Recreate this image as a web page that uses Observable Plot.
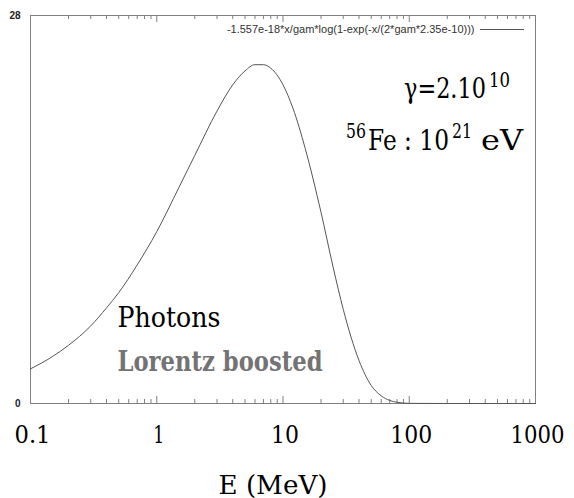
<!DOCTYPE html>
<html><head><meta charset="utf-8">
<script src="https://cdn.jsdelivr.net/npm/d3@7"></script>
<script src="https://cdn.jsdelivr.net/npm/@observablehq/plot@0.6"></script>
<style>
body{margin:0;background:#fff} svg{display:block}
</style>
</head><body><div id="chart"></div>
<script>
// Photon energy (MeV) and spectrum values
const energy = [0.1, 0.15, 0.2, 0.3, 0.4, 0.5, 0.7, 1, 1.5, 2, 3, 4, 5, 6, 7, 8, 10, 12, 15, 20, 25, 30, 40, 50, 60, 70, 80, 100, 200, 500, 1000];
const flux   = [2.5, 3.4, 4.2, 5.6, 6.9, 8.0, 10.0, 12.4, 15.6, 17.9, 21.1, 23.0, 24.0, 24.45, 24.45, 24.2, 23.0, 21.3, 18.4, 13.8, 9.8, 6.8, 3.1, 1.3, 0.55, 0.22, 0.09, 0.01, 0, 0, 0];

const majorTicks = [0.1, 1, 10, 100, 1000];
const tickLabels = ["0.1", "1", "10", "100", "1000"];
const innerMajor = [1, 10, 100];
const minorTicks = [0.2,0.3,0.4,0.5,0.6,0.7,0.8,0.9, 2,3,4,5,6,7,8,9, 20,30,40,50,60,70,80,90, 200,300,400,500,600,700,800,900];
const yTicks = [0, 28];
const yTickLabels = ["0", "28"];
const legendText = "-1.557e-18*x/gam*log(1-exp(-x/(2*gam*2.35e-10)))";
const xTitle = "E (MeV)";
const note1 = "Photons";
const note2 = "Lorentz boosted";

const data = energy.map((e, i) => ({e, f: flux[i]}));
const labelOf = new Map(majorTicks.map((d, i) => [d, tickLabels[i]]));
const yLabelOf = new Map(yTicks.map((d, i) => [d, yTickLabels[i]]));

const W = 574, Ht = 498, mT = 15, mR = 39, mB = 95, mL = 30;
const FH = Ht - mT - mB; // frame height
const serif = "DejaVu Serif";
const sans = "Liberation Sans";
const gray = "#808080";

const chart = Plot.plot({
  width: W, height: Ht, marginTop: mT, marginRight: mR, marginBottom: mB, marginLeft: mL,
  style: {background: "#fff"},
  x: {type: "log", domain: [0.1, 1000]},
  y: {domain: [0, 28], axis: null},
  marks: [
    Plot.frame({stroke: gray}),
    Plot.tickX(minorTicks, {x: d => d, insetTop: FH - 4, stroke: gray}),
    Plot.tickX(minorTicks, {x: d => d, insetBottom: FH - 4, stroke: gray}),
    Plot.tickX(innerMajor, {x: d => d, insetTop: FH - 7, stroke: gray}),
    Plot.tickX(innerMajor, {x: d => d, insetBottom: FH - 7, stroke: gray}),
    Plot.axisX(majorTicks, {tickSize: 0, tickPadding: 22, tickFormat: d => labelOf.get(d), fontSize: 25, fontFamily: serif, fill: "#000", dx: 2, label: null}),
    Plot.text(yTicks, {frameAnchor: "left", y: d => d, text: d => yLabelOf.get(d), dx: -10, textAnchor: "end", fontSize: 10, fontFamily: sans, fill: "#222", fontWeight: "bold"}),
    Plot.line(data, {x: "e", y: "f", curve: "monotone-x", stroke: "#555", strokeWidth: 1}),
    Plot.text([legendText], {frameAnchor: "top-right", dx: -61, dy: 14, textAnchor: "end", lineAnchor: "middle", fontSize: 11, fontFamily: sans, fill: "#333"}),
    Plot.ruleY([28], {dy: 14, insetLeft: 450, insetRight: 11, stroke: "#555"}),
    Plot.text([note1], {frameAnchor: "top-left", dx: 87, dy: 311, textAnchor: "start", lineAnchor: "bottom", fontSize: 28, fontFamily: serif, fill: "#000"}),
    Plot.text([note2], {frameAnchor: "top-left", dx: 87, dy: 355, textAnchor: "start", lineAnchor: "bottom", fontSize: 27, fontWeight: "bold", fontFamily: serif, fill: "#737373"}),
    Plot.text([xTitle], {frameAnchor: "top-left", dx: 188, dy: 478, textAnchor: "start", lineAnchor: "bottom", fontSize: 26, fontFamily: serif, fill: "#000"})
  ]
});
document.getElementById("chart").appendChild(chart);

const svg = d3.select(chart);
// Fit the serif texts to the widths seen in the reference (Times-like footprint)
const fitWidth = new Map([["0.1", 36], ["1", 11], ["10", 28], ["100", 42], ["1000", 54], [note1, 103], [note2, 205], [xTitle, 109]]);
svg.selectAll("text").each(function () {
  if (this.querySelector("tspan")) return;
  const w = fitWidth.get(this.textContent);
  if (w) d3.select(this).attr("textLength", w).attr("lengthAdjust", "spacingAndGlyphs");
});

// Annotations with superscripts: each piece is squeezed horizontally to the reference width
const ann = svg.append("g").attr("font-family", serif).attr("text-anchor", "start").attr("fill", "#000");
const pieces = [
  {t: "γ=2.10", x: 404, y: 98, s: 27, w: 82},
  {t: "10", x: 489, y: 87, s: 20, w: 21},
  {t: "56", x: 346, y: 138, s: 20, w: 20},
  {t: "Fe : 10", x: 368, y: 150, s: 27, w: 81},
  {t: "21", x: 452, y: 138, s: 20, w: 20},
  {t: "eV", x: 481, y: 150, s: 28, w: 42}
];
for (const p of pieces) {
  const g = ann.append("g");
  const t = g.append("text").attr("x", 0).attr("y", 0).attr("font-size", p.s).text(p.t);
  const natural = t.node().getComputedTextLength() || p.w;
  g.attr("transform", `translate(${p.x},${p.y}) scale(${p.w / natural},1)`);
}
</script>
</body></html>
